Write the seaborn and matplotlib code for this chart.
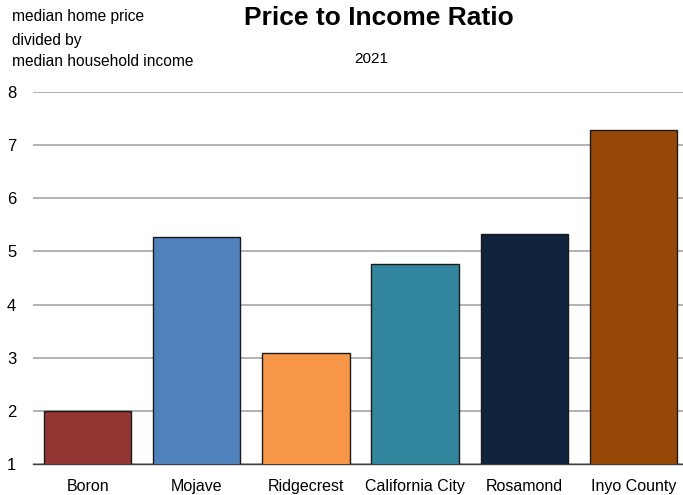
import matplotlib
matplotlib.use("Agg")
import matplotlib.pyplot as plt
import seaborn as sns
import pandas as pd
import numpy as np

categories = ["Boron", "Mojave", "Ridgecrest", "California City", "Rosamond", "Inyo County"]
ratios = [1.99, 5.27, 3.09, 4.76, 5.32, 7.29]
colors = ["#943634", "#4F81BD", "#F79646", "#31859C", "#10243E", "#974806"]
yticks = [1, 2, 3, 4, 5, 6, 7, 8]

sns.set_theme(style="white")
plt.rcParams["font.family"] = ["Liberation Sans", "DejaVu Sans"]
plt.rcParams["text.color"] = "black"
plt.rcParams["xtick.color"] = "black"
plt.rcParams["ytick.color"] = "black"

fig = plt.figure(figsize=(6.83, 4.95), dpi=100)
ax = fig.add_axes([33 / 683, 1 - 464 / 495, (688 - 33) / 683, (464 - 92) / 495])

df = pd.DataFrame({"cat": categories, "val": ratios})
sns.barplot(data=df, x="cat", y="val", hue="cat", palette=colors, legend=False,
            width=0.8, edgecolor="#1a1a1a", linewidth=1.0, saturation=1, ax=ax, zorder=3)

ax.set_ylim(1, 8)
ax.set_xlim(-0.5, len(categories) - 0.5)
ax.set_yticks(yticks)
ax.set_yticklabels([str(v) for v in yticks], fontsize=12)
ax.yaxis.grid(True, color="#A6A6A6", linewidth=1.2, zorder=0)
ax.set_axisbelow(True)
ax.tick_params(axis="y", length=0, pad=12)
ax.tick_params(axis="x", which="major", length=0, pad=19.5, labelsize=11.5)
for lab in ax.get_xticklabels():
    lab.set_verticalalignment("baseline")
ax.set_xticks(np.arange(-0.5, len(categories), 1.0), minor=True)
ax.tick_params(axis="x", which="minor", length=5, width=1, color="#404040", direction="out")
ax.set_xlabel("")
ax.set_ylabel("")
for s in ["left", "right", "top"]:
    ax.spines[s].set_visible(False)
ax.spines["bottom"].set_color("#404040")
ax.spines["bottom"].set_linewidth(1.0)

fig.text(379 / 683, 1 - 18 / 495, "Price to Income Ratio", ha="center", va="center",
         fontsize=19, fontweight="bold")
fig.text(371 / 683, 1 - 59 / 495, "2021", ha="center", va="center", fontsize=11)
fig.text(12 / 683, 1 - 17 / 495, "median home price", ha="left", va="center", fontsize=11.2)
fig.text(12 / 683, 1 - 40 / 495, "divided by", ha="left", va="center", fontsize=11.2)
fig.text(12 / 683, 1 - 62 / 495, "median household income", ha="left", va="center", fontsize=11.2)

fig.savefig("out.png", dpi=100)
